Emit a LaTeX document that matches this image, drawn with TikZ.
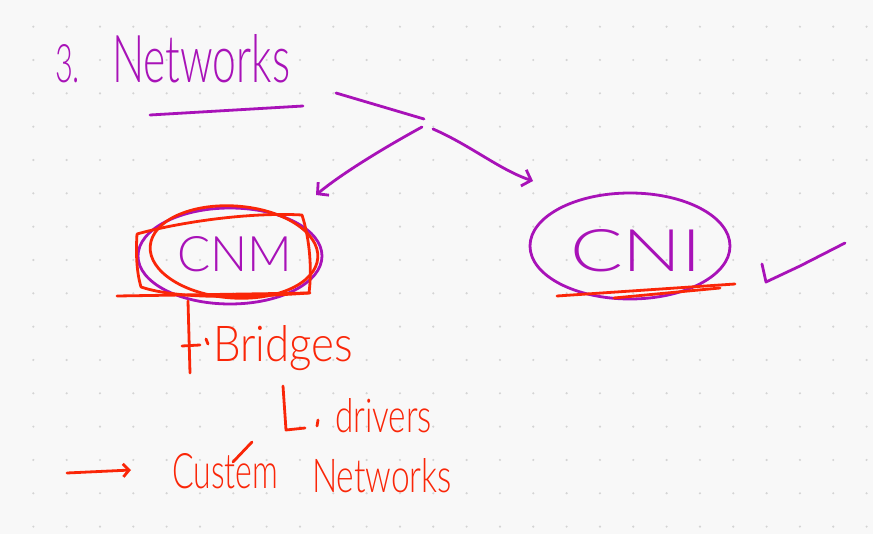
\documentclass[tikz,border=0pt]{standalone}
\usepackage{fontspec}
\usepackage{graphicx}
\setmainfont{Lato Light}
\usetikzlibrary{shapes.geometric,arrows.meta}
\definecolor{pur}{RGB}{168,18,184}
\definecolor{rd}{RGB}{250,38,8}
\definecolor{bg}{RGB}{248,248,248}
\definecolor{dotc}{RGB}{212,212,212}
\tikzset{
  pen/.style={line width=2.8pt,line cap=round,line join=round},
  ppen/.style={pen,draw=pur},
  rpen/.style={pen,draw=rd},
  ptxt/.style={text=pur,inner sep=0pt,outer sep=0pt},
  rtxt/.style={text=rd,inner sep=0pt,outer sep=0pt},
  barb/.style={-{Straight Barb[length=8pt,width=17pt,line width=2.8pt]}},
}
\begin{document}
\begin{tikzpicture}[x=1pt,y=-1pt]
\useasboundingbox (0,0) rectangle (873,534);
\fill[bg] (0,0) rectangle (873,534);
\foreach \i in {1,...,26}{\foreach \j in {0,...,15}{
  \fill[dotc] ({33.33*\i},{26.67+33.33*\j}) circle (1.2pt);}}
% title
\node[ptxt,anchor=base west] (three) at (55,83) {\resizebox{25pt}{38pt}{3.}};
\node[ptxt,anchor=base west] (title) at (112,83) {\resizebox{178pt}{48pt}{Networks}};
\coordinate (ul1) at (150,115); \coordinate (ul2) at (303,106);
\draw[ppen] (ul1) -- (ul2);
\coordinate (b1) at (336,93); \coordinate (b2) at (424,119);
\draw[ppen] (b1) -- (b2);
\coordinate (sl) at (422,127); \coordinate (sr) at (433,129);
% nodes
\node[ellipse,ppen,minimum width=184pt,minimum height=96pt,inner sep=0pt] (cnm) at (230,256) {};
\node[ptxt,anchor=base west] (cnmt) at (177,272) {\resizebox{115pt}{35pt}{CNM}};
\node[ellipse,ppen,minimum width=200pt,minimum height=106pt,inner sep=0pt] (cni) at (630,246) {};
\node[ptxt,anchor=base west] (cnit) at (570,272) {\resizebox{132pt}{42pt}{CNI}};
\coordinate (al) at (316,195); \coordinate (ar) at (533,181);
\draw[ppen,barb] (sl) .. controls (380,150) and (340,175) .. (al);
\draw[ppen,barb] (sr) .. controls (470,145) and (500,170) .. (ar);
% red marks on CNM
\draw[rpen] (137,234) .. controls (180,222) and (250,212) .. (302,215)
  .. controls (310,240) and (312,270) .. (309,293)
  .. controls (250,297) and (180,300) .. (141,287)
  .. controls (136,270) and (136,250) .. (137,234);
\draw[rpen,rotate around={-4:(234,252)}] (234,252) ellipse (84pt and 46pt);
\coordinate (rl1) at (117,296); \coordinate (rl2) at (310,293);
\draw[rpen] (rl1) -- (rl2);
% red marks under CNI
\coordinate (c1) at (557,296); \coordinate (c2) at (735,284);
\coordinate (c3) at (614,298); \coordinate (c4) at (720,288);
\draw[rpen] (c1) -- (c2);
\draw[rpen] (c3) -- (c4);
% check mark
\coordinate (k1) at (762,264); \coordinate (k2) at (766,282);
\coordinate (k3) at (800,266); \coordinate (k4) at (845,243);
\draw[ppen] (k1) -- (k2) -- (k3) -- (k4);
% bridges
\coordinate (v1) at (188,301); \coordinate (v2) at (190,373);
\draw[rpen] (v1) -- (v2);
\coordinate (t1) at (182,346); \coordinate (t2) at (200,345);
\draw[rpen] (t1) -- (t2);
\draw[rpen] (206,339) -- (208,344);
\node[rtxt,anchor=base west] (bridges) at (213,362) {\resizebox{140pt}{36pt}{Bridges}};
% drivers
\coordinate (d1) at (283,386); \coordinate (d2) at (286,430); \coordinate (d3) at (305,428);
\draw[rpen] (d1) -- (d2) -- (d3);
\draw[rpen] (318,420) -- (317,426);
\node[rtxt,anchor=base west] (drivers) at (335,432) {\resizebox{97pt}{34pt}{drivers}};
% custom networks
\coordinate (a0) at (67,473);
\node[rtxt,anchor=base west] (custem) at (172,488) {\resizebox{106pt}{35pt}{Custem}};
\draw[rpen,-{Straight Barb[length=6pt,width=13pt,line width=2.8pt]}] (a0) -- (131,470);
\coordinate (s1) at (252,442); \coordinate (s2) at (233,462);
\draw[rpen] (s1) -- (s2);
\node[rtxt,anchor=base west] (cnet) at (312,492) {\resizebox{140pt}{34pt}{Networks}};
\end{tikzpicture}
\end{document}
